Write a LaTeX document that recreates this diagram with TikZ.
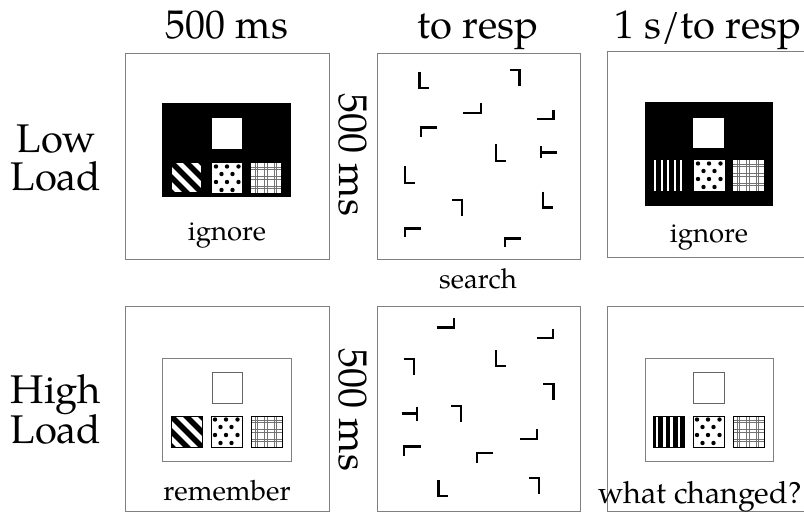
\documentclass[tikz,border=0pt]{standalone}
\usepackage{fontspec}
\setmainfont{TeX Gyre Pagella}
\newcommand\stimDiag[3]{%
 \begin{scope}[shift={(#1,#2)}]
  \fill[white] (0,0) rectangle (#3,#3);
  \begin{scope}
   \clip (0,0) rectangle (#3,#3);
   \foreach \k in {-4,...,3}{\draw[line width=5.5pt] (\k*15-5,-5) -- ++(45,45);}
  \end{scope}
 \end{scope}}
\newcommand\stimDots[3]{%
 \begin{scope}[shift={(#1,#2)}]
  \fill[white] (0,0) rectangle (#3,#3);
  \foreach \px/\py in {4/3.5,15/3.5,26.5/3.5,9.5/11,20.5/11,4/19,15/19,26.5/19,9.5/27,20.5/27}{\fill (\px,\py) circle (2.2pt);}
 \end{scope}}
\newcommand\stimPlaid[3]{%
 \begin{scope}[shift={(#1,#2)}]
  \fill[white] (0,0) rectangle (#3,#3);
  \foreach \q in {4,6.5,13.5,16,23,25.5}{\draw[black!55,line width=0.7pt] (\q,0) -- (\q,#3); \draw[black!55,line width=0.7pt] (0,\q) -- (#3,\q);}
 \end{scope}}
\newcommand\stimVertW[3]{%
 \begin{scope}[shift={(#1,#2)}]
  \foreach \q in {2,8.5,15,21.5,28}{\draw[white,line width=2pt] (\q,0) -- (\q,#3);}
 \end{scope}}
\newcommand\stimVertB[3]{%
 \begin{scope}[shift={(#1,#2)}]
  \fill[white] (0,0) rectangle (#3,#3);
  \begin{scope}
   \clip (0,0) rectangle (#3,#3);
   \foreach \q in {1,7.5,15,22.5,29}{\draw[line width=4.5pt] (\q,0) -- (\q,#3);}
  \end{scope}
 \end{scope}}
\newcommand\stimBox[3]{\draw[line width=0.8pt] (#1,#2) rectangle ++(#3,#3);}
\begin{document}
\begin{tikzpicture}[x=1pt,y=-1pt,
  panel/.style={draw=black!50, line width=1pt, minimum width=204pt, minimum height=206pt, anchor=north west, inner sep=0pt, outer sep=0pt},
  big/.style={font=\fontsize{40}{48}\selectfont, inner sep=0pt, anchor=base},
  small/.style={font=\fontsize{27.5}{32}\selectfont, inner sep=0pt, anchor=base},
  lbar/.style={line width=2.4pt},
  inframe/.style={draw=black!50, line width=1pt},
  wsq/.style={fill=white, draw=black!60, line width=0.8pt}]
\useasboundingbox (0,0) rectangle (804,512);
\clip (0,0) rectangle (804,512);
\fill[white] (0,0) rectangle (804,512);

% headers
\node[big] (h1) at (227,38) {500 ms};
\node[big] (h2) at (478,38) {to resp};
\node[big] (h3) at (708,38) {1 s/to resp};

% row labels
\node[big] (r1a) at (56,152) {Low};
\node[big] (r1b) at (56,190) {Load};
\node[big] (r2a) at (56,403) {High};
\node[big] (r2b) at (56,443) {Load};

% panels
\node[panel] (p11) at (125,53) {};
\node[panel, minimum width=203pt] (p12) at (377,53) {};
\node[panel] (p13) at (607,51) {};
\node[panel, minimum height=205pt] (p21) at (125,306) {};
\node[panel, minimum width=203pt, minimum height=205pt] (p22) at (377,306) {};
\node[panel, minimum height=205pt] (p23) at (607,306) {};

% rotated labels
\node[big, anchor=center, rotate=-90] (t1) at (353,155) {500 ms};
\node[big, anchor=center, rotate=-90] (t2) at (353,410) {500 ms};

% panel texts
\node[small] (c11) at (227,240) {ignore};
\node[small] (c13) at (709,242) {ignore};
\node[small] (c12) at (478,288) {search};
\node[small, font=\fontsize{28}{32}\selectfont] (c21) at (227,500) {remember};
\node[small, font=\fontsize{30.5}{34}\selectfont] (c23) at (700,503) {what changed?};

% top-left stimulus
\fill (162,103) rectangle (291,197);
\fill[white] (212,118) rectangle (242,149);
\stimDiag{172}{163}{29}
\stimDots{212}{163}{30}
\stimPlaid{251}{163}{30}

% top-right stimulus
\fill (645,102) rectangle (773,206);
\fill[white] (693,118) rectangle (724,148);
\stimVertW{653}{160}{31}
\stimDots{694}{160}{31}
\stimPlaid{733}{160}{31}

% bottom-left stimulus
\draw[inframe] (162,358) rectangle (291,461);
\draw[wsq] (212,372) rectangle (242,403);
\stimDiag{171}{416}{31}\stimBox{171}{416}{31}
\stimDots{211}{416}{31}\stimBox{211}{416}{31}
\stimPlaid{251}{416}{31}\stimBox{251}{416}{31}

% bottom-right stimulus
\draw[inframe] (645,358) rectangle (773,461);
\draw[wsq] (693,372) rectangle (724,403);
\stimVertB{653}{416}{31}\stimBox{653}{416}{31}
\stimDots{693}{416}{31}\stimBox{693}{416}{31}
\stimPlaid{733}{416}{31}\stimBox{733}{416}{31}

% search display, low load
\draw[lbar] (419.3,71.7) -- (419.3,87.7) -- (429,87.7);
\draw[lbar] (510,70) -- (519.3,70) -- (519.3,86);
\draw[lbar] (463.3,112.7) -- (480.7,112.7) -- (480.7,103.3);
\draw[lbar] (536.7,119) -- (553.3,119) -- (553.3,110);
\draw[lbar] (437.3,127.3) -- (420.7,127.3) -- (420.7,137.3);
\draw[lbar] (496,144) -- (496,160.7) -- (506,160.7);
\draw[lbar] (540.7,146) -- (540.7,158.3) (540.7,152.3) -- (556.7,152.3);
\draw[lbar] (404.7,166) -- (404.7,182.7) -- (414.7,182.7);
\draw[lbar] (452,199.7) -- (462,199.7) -- (462,215.7);
\draw[lbar] (542.7,191.7) -- (542.7,207.3) -- (552.7,207.3);
\draw[lbar] (421.3,228.3) -- (404.7,228.3) -- (404.7,237.3);
\draw[lbar] (521.3,238.3) -- (504.7,238.3) -- (504.7,247.3);

% search display, high load
\draw[lbar] (436.7,327.3) -- (454,327.3) -- (454,318.3);
\draw[lbar] (536.7,338) -- (552.7,338) -- (552.7,329);
\draw[lbar] (404,358.7) -- (414,358.7) -- (414,375);
\draw[lbar] (495.7,350) -- (495.7,366) -- (505.7,366);
\draw[lbar] (543.3,383.7) -- (553.3,383.7) -- (553.3,400);
\draw[lbar] (416.7,406.7) -- (416.7,420.7) (401.7,413.3) -- (416.7,413.3);
\draw[lbar] (451,406) -- (461,406) -- (461,422.3);
\draw[lbar] (520,438.7) -- (536.7,438.7) -- (536.7,429.3);
\draw[lbar] (420.7,446.3) -- (404,446.3) -- (404,456);
\draw[lbar] (493.3,453) -- (476.7,453) -- (476.7,462.7);
\draw[lbar] (438.3,480) -- (438.3,496) -- (448.3,496);
\draw[lbar] (529,477.7) -- (539,477.7) -- (539,494);
\end{tikzpicture}
\end{document}
